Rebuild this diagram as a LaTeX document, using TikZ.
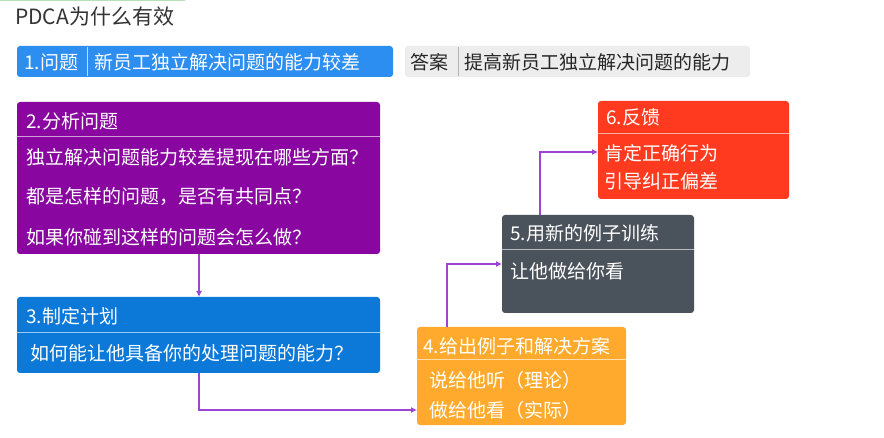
\documentclass[tikz,border=0pt]{standalone}
\usepackage{fontspec}
\usetikzlibrary{arrows.meta}
\setmainfont{Noto Sans CJK SC}
\definecolor{cblue}{HTML}{2B8EF0}
\definecolor{cpurp}{HTML}{8A06A0}
\definecolor{cblue3}{HTML}{0C78D8}
\definecolor{corange}{HTML}{FFAA2C}
\definecolor{cgray}{HTML}{4A525B}
\definecolor{cred}{HTML}{FF3A1E}
\definecolor{cline}{HTML}{9B45D2}
\tikzset{
 box/.style={rounded corners=3pt,draw=none},
 txt/.style={anchor=west,inner sep=0pt,text=white,font=\fontsize{19}{19}\selectfont},
 con/.style={draw=cline,line width=1.6pt,-{Latex[length=6pt,width=6pt]}},
 sep/.style={line width=1pt}
}
\begin{document}
\begin{tikzpicture}[x=1pt,y=-1pt]
\useasboundingbox (0,0) rectangle (884,438);
\fill[white] (0,0) rectangle (884,438);
\draw[green!40!gray!40,line width=2pt] (0,0) -- (185,0);
\node[anchor=west,inner sep=0pt,text=black!80,font=\fontsize{21}{21}\selectfont] (title) at (15,17) {PDCA为什么有效};
% box 1
\fill[box,cblue] (17,46) rectangle (393,77);
\draw[white!70!cblue,line width=1pt] (87,47) -- (87,76);
\node[txt] (b1a) at (24,62) {1.问题};
\node[txt] (b1b) at (94,62) {新员工独立解决问题的能力较差};
% answer
\fill[box,black!7] (405,46) rectangle (750,77);
\draw[black!30,line width=1pt] (458,47) -- (458,76);
\node[txt,text=black!85] (ans1) at (410,62) {答案};
\node[txt,text=black!85] (ans2) at (464,62) {提高新员工独立解决问题的能力};
% box 2
\fill[box,cpurp] (17,102) rectangle (380,254);
\draw[sep,white!60!cpurp] (17,137) -- (380,137);
\node[txt] (b2h) at (26,121) {2.分析问题};
\node[txt] (b2a) at (26,157) {独立解决问题能力较差提现在哪些方面？};
\node[txt] (b2b) at (26,197) {都是怎样的问题，是否有共同点？};
\node[txt] (b2c) at (26,237) {如果你碰到这样的问题会怎么做？};
\coordinate (b2) at (199,254);
% box 3
\fill[box,cblue3] (17,297) rectangle (380,373);
\draw[sep,white!60!cblue3] (17,333) -- (380,333);
\node[txt] (b3h) at (26,316) {3.制定计划};
\node[txt] (b3a) at (30,353) {如何能让他具备你的处理问题的能力？};
\coordinate (b3t) at (199,297);
\coordinate (b3b) at (199,373);
% box 4
\fill[box,corange] (417,327) rectangle (626,425);
\draw[sep,white!60!corange] (417,360) -- (626,360);
\node[txt] (b4h) at (423,346) {4.给出例子和解决方案};
\node[txt] (b4a) at (429,380) {说给他听（理论）};
\node[txt] (b4b) at (429,410) {做给他看（实际）};
\coordinate (b4l) at (417,410);
\coordinate (b4t) at (447,327);
% box 5
\fill[box,cgray] (502,215) rectangle (694,313);
\draw[sep,white!60!cgray] (502,250) -- (694,250);
\node[txt] (b5h) at (510,233) {5.用新的例子训练};
\node[txt] (b5a) at (510,271) {让他做给你看};
\coordinate (b5l) at (502,264);
\coordinate (b5t) at (540,215);
% box 6
\fill[box,cred] (598,101) rectangle (789,199);
\draw[sep,white!60!cred] (598,134) -- (789,134);
\node[txt] (b6h) at (606,117) {6.反馈};
\node[txt] (b6a) at (604,153) {肯定正确行为};
\node[txt] (b6b) at (604,181) {引导纠正偏差};
\coordinate (b6l) at (598,152);
% connectors
\draw[con] (b2) -- (b3t);
\draw[con] (b3b) |- (b4l);
\draw[con] (b4t) |- (b5l);
\draw[con] (b5t) |- (b6l);
\end{tikzpicture}
\end{document}
